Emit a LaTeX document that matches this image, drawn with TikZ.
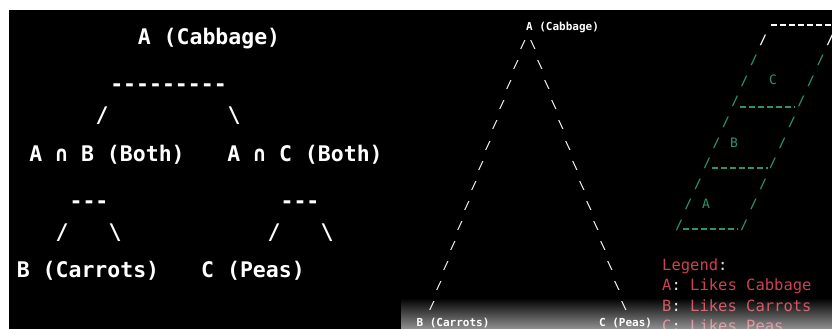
\documentclass[tikz,border=0pt]{standalone}
\usepackage{fontspec}
\setmonofont{DejaVu Sans Mono}
\definecolor{grn}{RGB}{40,150,105}
\definecolor{legred}{RGB}{205,66,82}
\definecolor{colon}{RGB}{225,225,225}
\tikzset{
  bigtxt/.style={font=\ttfamily\bfseries\fontsize{21.5}{24}\selectfont, text=white, inner sep=0pt, anchor=base},
  smalltxt/.style={font=\ttfamily\bfseries\fontsize{11}{13}\selectfont, text=white, inner sep=0pt, anchor=base},
  triglyph/.style={font=\ttfamily\bfseries\fontsize{11}{13}\selectfont, text=white, inner sep=0pt, anchor=center},
  grnglyph/.style={font=\ttfamily\bfseries\fontsize{13}{15}\selectfont, text=grn, inner sep=0pt, anchor=center},
  grnletter/.style={font=\ttfamily\fontsize{13}{15}\selectfont, text=grn, inner sep=0pt, anchor=center},
  legtxt/.style={font=\ttfamily\fontsize{15.5}{18}\selectfont, text=legred, inner sep=0pt, anchor=base west},
  underline/.style={line width=1.1pt, dash pattern=on 5.5pt off 3.5pt},
}
\begin{document}
\begin{tikzpicture}[x=1pt,y=-1pt]
\useasboundingbox (0,0) rectangle (832,329);
\clip (0,0) rectangle (832,329);
\fill[white] (0,0) rectangle (832,329);
\fill[black] (9,10) rectangle (832,329);

% ---------- left panel: ASCII tree ----------
\node[bigtxt] (lA) at (209,45) {A (Cabbage)};
\node[bigtxt] (ldash) at (168.5,92) {---------};
\node[bigtxt] (lsl1) at (102,122) {/};
\node[bigtxt] (lbs1) at (234,122) {\textbackslash};
\node[bigtxt] (lAB) at (107,161) {A ∩ B (Both)};
\node[bigtxt] (lAC) at (305,161) {A ∩ C (Both)};
\node[bigtxt] (ldashB) at (89,208) {---};
\node[bigtxt] (ldashC) at (300,208) {---};
\node[bigtxt] (lsl2) at (62,239) {/};
\node[bigtxt] (lbs2) at (115,239) {\textbackslash};
\node[bigtxt] (lsl3) at (274,239) {/};
\node[bigtxt] (lbs3) at (327,239) {\textbackslash};
\node[bigtxt] (lB) at (88,277) {B (Carrots)};
\node[bigtxt] (lC) at (253,277) {C (Peas)};

% ---------- middle: triangle ----------
\node[smalltxt] (tA) at (562.5,31) {A (Cabbage)};
\foreach \k in {0,...,13} {
  \node[triglyph] (tl\k) at ({523-7*\k},{45+20.1*\k}) {/};
  \node[triglyph] (tr\k) at ({533+7*\k},{45+20.1*\k}) {\textbackslash};
}
\node[smalltxt] (tB) at (453,326) {B (Carrots)};
\node[smalltxt] (tC) at (625.5,326) {C (Peas)};

% ---------- right: stacked parallelograms ----------
\coordinate (u0a) at (771,25);  \coordinate (u0b) at (840,25);
\draw[white, underline] (u0a) -- (u0b);
\node[grnglyph, text=white] (gl0) at (763,40) {/};
\node[grnglyph, text=white] (gr0) at (830,40) {/};
\foreach \k in {1,...,9} {
  \node[grnglyph] (gl\k) at ({763-9.33*\k},{40+20.6*\k}) {/};
  \node[grnglyph] (gr\k) at ({830-9.55*\k},{40+20.6*\k}) {/};
}
\coordinate (u1a) at (740,107); \coordinate (u1b) at (795,107);
\coordinate (u2a) at (712,168); \coordinate (u2b) at (768,168);
\coordinate (u3a) at (683,229); \coordinate (u3b) at (738,229);
\draw[grn, underline] (u1a) -- (u1b);
\draw[grn, underline] (u2a) -- (u2b);
\draw[grn, underline] (u3a) -- (u3b);
\node[grnletter] (gC) at (773,80) {C};
\node[grnletter] (gB) at (734,143) {B};
\node[grnletter] (gA) at (706,204) {A};

% ---------- legend ----------
\node[legtxt] (leg0) at (662,270) {Legend\textcolor{colon}{:}};
\node[legtxt] (leg1) at (662,290) {A\textcolor{colon}{:} Likes Cabbage};
\node[legtxt] (leg2) at (662,311) {B\textcolor{colon}{:} Likes Carrots};
\node[legtxt] (leg3) at (662,331) {C\textcolor{colon}{:} Likes Peas};

% ---------- bottom gradient overlay ----------
\foreach \i in {0,...,30} {
  \pgfmathsetmacro\op{0.55*\i/30}
  \fill[white, fill opacity=\op] (401,{298+\i}) rectangle (832,{299+\i});
}
\end{tikzpicture}
\end{document}
